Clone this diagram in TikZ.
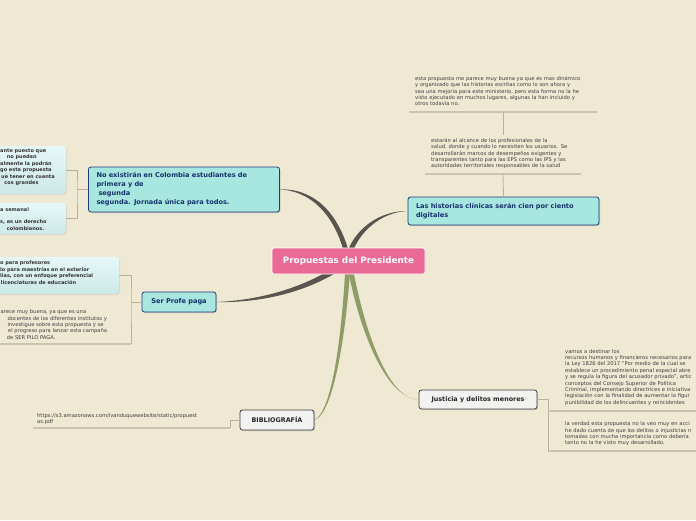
\documentclass[tikz,border=0pt]{standalone}
\usepackage{fontspec}
\setmainfont{DejaVu Sans}
\usetikzlibrary{calc, shadows}

\definecolor{paper}{RGB}{239,232,211}
\definecolor{hubpink}{RGB}{234,106,150}
\definecolor{topicfill}{RGB}{168,230,224}
\definecolor{topicline}{RGB}{30,58,120}
\definecolor{topictext}{RGB}{22,50,110}
\definecolor{greyfill}{RGB}{242,242,240}
\definecolor{greyline}{RGB}{60,60,60}
\definecolor{darkbranch}{RGB}{88,84,78}
\definecolor{greenbranch}{RGB}{142,157,104}
\definecolor{twigcol}{RGB}{184,176,152}
\definecolor{linecol}{RGB}{201,195,178}
\definecolor{notetext}{RGB}{62,62,62}
\definecolor{leaftop}{RGB}{230,248,248}
\definecolor{leafbot}{RGB}{204,232,230}

\tikzstyle{hub} = [rectangle, rounded corners=2pt, draw=white, line width=0.8pt, fill=hubpink, text=white, font=\fontsize{8.8}{10}\selectfont\bfseries, minimum width=153pt, minimum height=26pt]
\tikzstyle{topic} = [rectangle, rounded corners=2.5pt, draw=topicline, line width=0.8pt, fill=topicfill, text=topictext, inner xsep=8pt, align=left, font=\fontsize{6.6}{9}\selectfont\bfseries, drop shadow={opacity=0.3, shadow xshift=1pt, shadow yshift=-1pt}]
\tikzstyle{greybox} = [rectangle, rounded corners=2.5pt, draw=greyline, line width=0.8pt, fill=greyfill, text=black!85, font=\fontsize{6.4}{8}\selectfont\bfseries, drop shadow={opacity=0.3, shadow xshift=1pt, shadow yshift=-1pt}]
\tikzstyle{leafbox} = [rectangle, rounded corners=3pt, top color=leaftop, bottom color=leafbot, draw=none, drop shadow={opacity=0.15, shadow xshift=1pt, shadow yshift=-1pt}]
\tikzstyle{leafline} = [anchor=west, inner sep=0pt, text=black!80, font=\fontsize{5}{6.4}\selectfont\bfseries]
\tikzstyle{noteline} = [anchor=west, inner sep=0pt, text=notetext, font=\fontsize{5.2}{6.4}\selectfont]
\tikzstyle{note} = [anchor=north west, inner sep=0pt, text width=190pt, align=left, text=notetext, font=\fontsize{5.2}{6.4}\selectfont]
\tikzstyle{twig} = [draw=twigcol, line width=0.8pt]
\tikzstyle{underline} = [draw=linecol, line width=1.2pt]

\begin{document}
\begin{tikzpicture}[x=1pt, y=-1pt]
\useasboundingbox[fill=paper] (0,0) rectangle (696,520);

% topics
\node (nx) [topic, text width=175pt, minimum height=45pt] at (184,189.5) {No existirán en Colombia estudiantes de\\primera y de\\\hspace*{2pt}segunda\\segunda. Jornada única para todos.};
\node (lh) [topic, text width=175pt, minimum height=28pt] at (503.5,211) {Las historias clínicas serán cien por ciento\\digitales};
\node (sp) [topic, minimum width=74pt, minimum height=20pt] at (179,302) {Ser Profe paga};
\node (jd) [greybox, minimum width=118pt, minimum height=19pt] at (478,399.5) {Justicia y delitos menores};
\node (bib) [greybox, minimum width=74pt, minimum height=20pt] at (277,420) {BIBLIOGRAFÍA};

% branches
\fill[darkbranch] (nx.east) .. controls (308,188) and (338,206) .. (350.5,258) -- (345.5,258) .. controls (334,209) and (306,190.5) .. (nx.east);
\fill[darkbranch] (lh.west) .. controls (381,210.5) and (353,228) .. (345.5,258) -- (350.5,258) .. controls (358,231) and (382,212) .. (lh.west);
\fill[darkbranch] (sp.east) .. controls (262,300) and (306,287) .. (341,263) -- (343,268.5) .. controls (307,292) and (262,303) .. (sp.east);
\fill[greenbranch] (jd.west) .. controls (384,398.5) and (357,322) .. (347.5,266) -- (352.5,266) .. controls (362,320) and (386,400) .. (jd.west);
\fill[greenbranch] (bib.east) .. controls (333,411) and (342,330) .. (345.5,266) -- (350.5,266) .. controls (346,332) and (334,414) .. (bib.east);

\node (pres) [hub] at (348.5,261) {Propuestas del Presidente};

% left leaves
\node (leafa) [leafbox, minimum width=76pt, minimum height=48pt] at (28,170) {};
\node (leafb) [leafbox, minimum width=76pt, minimum height=31pt] at (28,218.5) {};
\node (leafc) [leafbox, minimum width=129pt, minimum height=37pt] at (54.5,275.5) {};
\foreach \dx/\ln [count=\i] in {0/ante puesto que, 6.7/no puedan, 0/almente la podrán, 0/go esta propuesta, 1/ue tener en cuenta, 4.3/cos grandes}
  \node (leafa\i) [leafline] at (\dx, 144.6+6.4*\i) {\ln};
\node (leafb1) [leafline] at (0,210) {a semana!};
\node (leafb2) [leafline] at (0,222) {s, es un derecho};
\node (leafb3) [leafline] at (6.7,228.4) {colombianos.};
\node (leafc1) [leafline] at (0,263.3) {o para profesores};
\node (leafc2) [leafline] at (0,269.7) {lo para maestrías en el exterior};
\node (leafc3) [leafline] at (0,276.1) {lias, con un enfoque preferencial};
\node (leafc4) [leafline] at (0.7,282.5) {licenciaturas de educación};

\coordinate (nxfork) at (77,189.5);
\draw[twig] (nx.west) -- (nxfork);
\draw[twig] (leafa.east) -| (nxfork) |- (leafb.east);

% ser profe paga
\node (spnote1) [noteline] at (0.5,312.3) {arece muy buena, ya que es una};
\node (spnote2) [noteline] at (7.3,318.7) {docentes de los diferentes institutos y};
\node (spnote3) [noteline] at (7.3,325.1) {investigue sobre esta propuesta y se};
\node (spnote4) [noteline] at (8,331.5) {el progreso para lanzar esta campaña};
\node (spnote5) [noteline] at (6.7,337.9) {de SER PILO PAGA.};
\coordinate (spfork) at (131,302);
\coordinate (spend) at (131,344);
\coordinate (spline) at (-5,344);
\draw[twig] (sp.west) -- (spfork);
\draw[twig] (leafc.east) -| (spfork) -- (spend);
\draw[underline] (spend) -- (spline);

% historias clinicas
\node (histtop) [note] at (415,76) {esta propuesta me parece muy buena ya que es mas dinámico\\y organizado que las historias escritas como lo son ahora y\\sea una mejoria para este ministerio, pero esta forma no la he\\visto ejecutado en muchos lugares, algunas la han incluido y\\otros todavía no.};
\node (histmid) [note] at (431,138) {estarán al alcance de los profesionales de la\\salud, donde y cuando lo necesiten los usuarios. Se\\desarrollarán marcos de desempeños exigentes y\\transparentes tanto para las EPS como las IPS y las\\autoridades territoriales responsables de la salud};
\coordinate (histhi) at (503,112);
\coordinate (histgap) at (503,135);
\coordinate (histlo) at (503,174);
\draw[underline] (409,112) -- (597,112);
\draw[underline] (425,174) -- (581,174);
\draw[twig] (histhi) -- (histgap);
\draw[twig] (histlo) -- (lh.north);

% justicia
\node (jdnote1) [note] at (565,349) {vamos a destinar los\\recursos humanos y financieros necesarios para\\la Ley 1826 del 2017 "Por medio de la cual se\\establece un procedimiento penal especial abre\\y se regula la figura del acusador privado", artic\\conceptos del Consejo Superior de Política\\Criminal, implementando directrices e iniciativa\\legislación con la finalidad de aumentar la figur\\punibilidad de los delincuentes y reincidentes};
\node (jdnote2) [note] at (565,421.5) {la verdad esta propuesta no la veo muy en acci\\he dado cuenta de que los delitos o injusticias n\\tomadas con mucha importancia como debería\\tanto no la he visto muy desarrollado.};
\coordinate (jdup) at (548,411);
\coordinate (jdlow) at (548,451);
\draw[twig] (jd.east) -| (jdlow);
\draw[underline] (jdup) -- (700,411);
\draw[underline] (jdlow) -- (700,451);

% bibliografia
\node (biburl) [note] at (37,413) {https://s3.amazonaws.com/ivanduquewebsite/static/propuest\\as.pdf};
\coordinate (biblow) at (230,428);
\coordinate (bibleft) at (33,428);
\draw[twig] (bib.west) -| (biblow);
\draw[underline] (biblow) -- (bibleft);

\end{tikzpicture}
\end{document}
